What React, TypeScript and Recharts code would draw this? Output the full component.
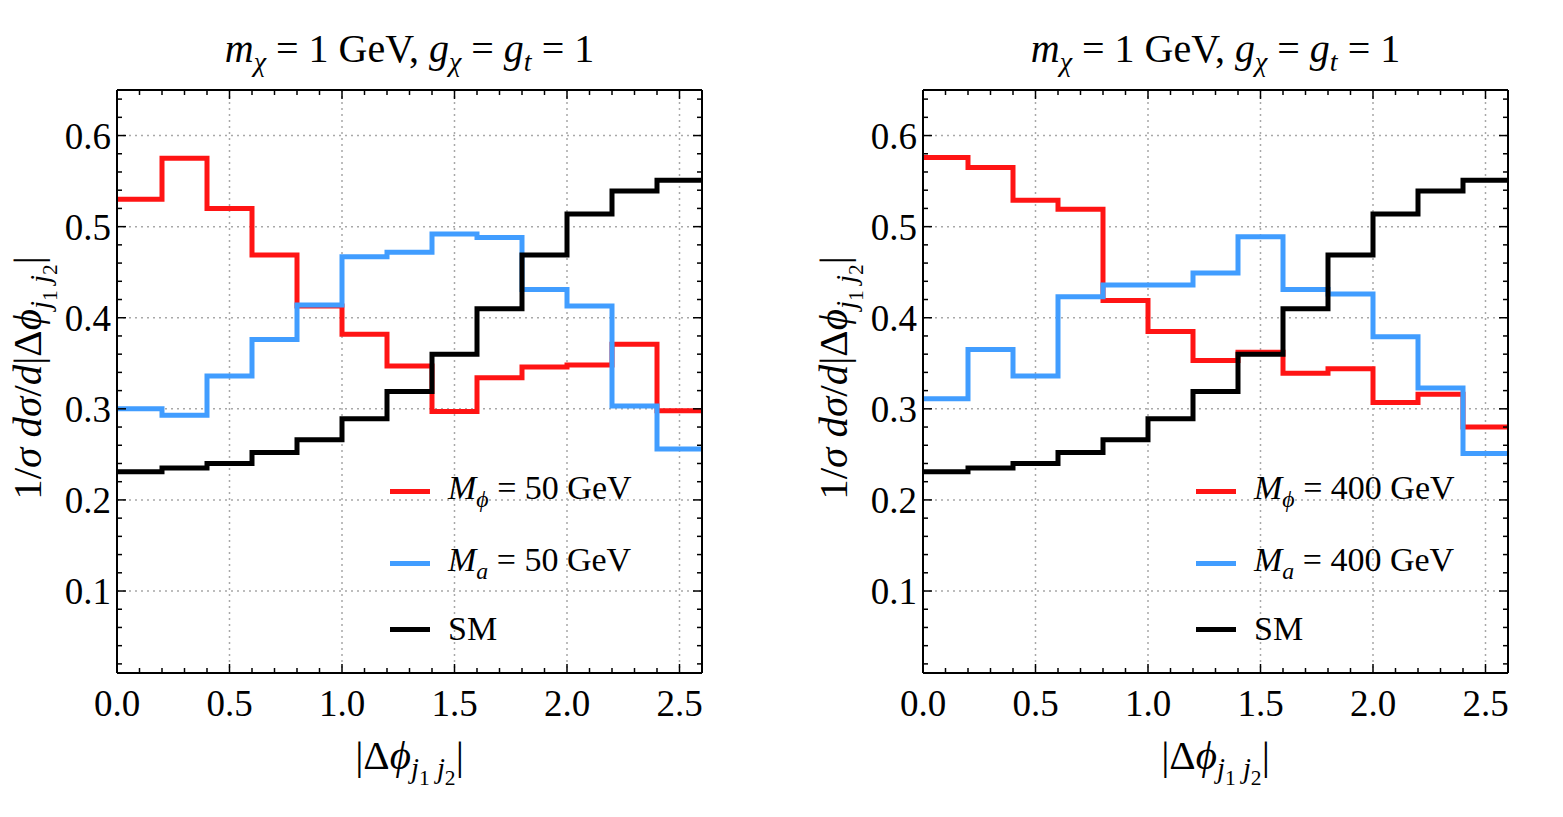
import React from 'react';
import { LineChart, Line, XAxis, YAxis, CartesianGrid, Legend } from 'recharts';

// bin edges of |Δφ_j1j2| (13 bins of width 0.2)
const binEdges = [0, 0.2, 0.4, 0.6, 0.8, 1.0, 1.2, 1.4, 1.6, 1.8, 2.0, 2.2, 2.4, 2.6];

const smValues = [0.231, 0.235, 0.240, 0.252, 0.266, 0.289, 0.319, 0.360, 0.410, 0.469, 0.514, 0.539, 0.551];
const scalar50 = [0.530, 0.575, 0.520, 0.469, 0.413, 0.382, 0.347, 0.297, 0.334, 0.346, 0.348, 0.371, 0.298];
const pseudo50 = [0.300, 0.293, 0.336, 0.376, 0.414, 0.467, 0.472, 0.492, 0.488, 0.431, 0.413, 0.303, 0.256];
const scalar400 = [0.576, 0.565, 0.529, 0.519, 0.419, 0.385, 0.353, 0.362, 0.339, 0.344, 0.307, 0.316, 0.280];
const pseudo400 = [0.311, 0.365, 0.336, 0.423, 0.436, 0.436, 0.449, 0.489, 0.431, 0.426, 0.379, 0.323, 0.251];

const xMajorTicks = [0, 0.5, 1.0, 1.5, 2.0, 2.5];
const yMajorTicks = [0.1, 0.2, 0.3, 0.4, 0.5, 0.6];
const xMinorTicks = Array.from({ length: 27 }, (_, i) => i / 10);
const yMinorTicks = Array.from({ length: 32 }, (_, i) => (i + 1) / 50);

const legendOrder = ['red', 'blue', 'sm'];

const FONT = '"Liberation Serif", "Times New Roman", serif';
const RED = '#ff1414';
const BLUE = '#419dff';
const MAJOR = 9;
const MINOR = 5;

const isMajor = (v: number, step: number) => Math.abs(v / step - Math.round(v / step)) < 1e-6;

// step histogram: repeat last value at the right edge
const toSteps = (red: number[], blue: number[]) =>
  binEdges.map((x, i) => {
    const k = Math.min(i, red.length - 1);
    return { x, red: red[k], blue: blue[k], sm: smValues[k] };
  });

const BottomTick = ({ x, y, payload }: any) => {
  const major = isMajor(payload.value, 0.5);
  return (
    <g>
      <line x1={x} x2={x} y1={y} y2={y - (major ? MAJOR : MINOR)} stroke="#000" strokeWidth={1.5} />
      {major && (
        <text x={x} y={y + 43} textAnchor="middle" fontSize={37} fontFamily={FONT} fill="#000">
          {payload.value.toFixed(1)}
        </text>
      )}
    </g>
  );
};
const LeftTick = ({ x, y, payload }: any) => {
  const major = isMajor(payload.value, 0.1);
  return (
    <g>
      <line x1={x} x2={x + (major ? MAJOR : MINOR)} y1={y} y2={y} stroke="#000" strokeWidth={1.5} />
      {major && (
        <text x={x - 6} y={y + 13} textAnchor="end" fontSize={37} fontFamily={FONT} fill="#000">
          {payload.value.toFixed(1)}
        </text>
      )}
    </g>
  );
};
const TopTick = ({ x, y, payload }: any) => (
  <line x1={x} x2={x} y1={y} y2={y + (isMajor(payload.value, 0.5) ? MAJOR : MINOR)} stroke="#000" strokeWidth={1.5} />
);
const RightTick = ({ x, y, payload }: any) => (
  <line x1={x} x2={x - (isMajor(payload.value, 0.1) ? MAJOR : MINOR)} y1={y} y2={y} stroke="#000" strokeWidth={1.5} />
);

const legendLabel = (name: string) => {
  const m = name.match(/^M_(\S+) (.*)$/);
  if (!m) return <span>{name}</span>;
  return (
    <span>
      <i>M</i>
      <sub style={{ fontSize: '0.7em' }}><i>{m[1]}</i></sub> {m[2]}
    </span>
  );
};

const rowTops = [0, 72, 138];

const LegendContent = ({ payload, textLeft }: any) => {
  const items = [...(payload || [])].sort(
    (a: any, b: any) => legendOrder.indexOf(a.dataKey) - legendOrder.indexOf(b.dataKey)
  );
  return (
    <div style={{ position: 'relative', width: 320, height: 170, fontFamily: FONT, fontSize: 34, color: '#000' }}>
      {items.map((entry: any, i: number) => (
        <div key={entry.value} style={{ position: 'absolute', left: 0, top: rowTops[i], height: 40, display: 'flex', alignItems: 'center' }}>
          <div style={{ width: 40, height: 5, background: entry.color }} />
          <div style={{ marginLeft: textLeft - 40, whiteSpace: 'nowrap' }}>{legendLabel(entry.value)}</div>
        </div>
      ))}
    </div>
  );
};

const Title = () => (
  <span>
    <i>m</i><sub style={{ fontSize: '0.7em' }}><i>χ</i></sub> = 1 GeV, <i>g</i>
    <sub style={{ fontSize: '0.7em' }}><i>χ</i></sub> = <i>g</i>
    <sub style={{ fontSize: '0.7em' }}><i>t</i></sub> = 1
  </span>
);

const PhiSub = () => (
  <sub style={{ fontSize: '0.7em' }}>
    <i>j</i><sub style={{ fontSize: '0.75em' }}>1</sub> <i>j</i><sub style={{ fontSize: '0.75em' }}>2</sub>
  </sub>
);

interface PanelProps {
  left: number;
  width: number;
  plotLeft: number;
  red: number[];
  blue: number[];
  mass: string;
}

function Panel({ left, width, plotLeft, red, blue, mass }: PanelProps) {
  const plotWidth = 585;
  const data = toSteps(red, blue);
  const cx = plotLeft + plotWidth / 2;
  const textStyle: React.CSSProperties = { position: 'absolute', fontFamily: FONT, color: '#000', whiteSpace: 'nowrap' };
  const axisLine = { stroke: '#000', strokeWidth: 2 };
  return (
    <div style={{ position: 'absolute', left, top: 0, width, height: 817 }}>
      <LineChart
        width={width}
        height={817}
        data={data}
        margin={{ top: 89, left: plotLeft - 1, right: width - plotLeft - plotWidth - 1, bottom: 143 }}
      >
        <CartesianGrid xAxisId="grid" yAxisId="grid" stroke="#a8a8a8" strokeDasharray="2 4" strokeWidth={1.5} />
        <XAxis dataKey="x" type="number" domain={[0, 2.6]} ticks={xMinorTicks} interval={0} height={1}
          tickSize={0} tickMargin={0} tickLine={false} tick={BottomTick} axisLine={axisLine} allowDataOverflow />
        <XAxis xAxisId="top" orientation="top" dataKey="x" type="number" domain={[0, 2.6]} ticks={xMinorTicks} interval={0} height={1}
          tickSize={0} tickMargin={0} tickLine={false} tick={TopTick} axisLine={axisLine} allowDataOverflow />
        <XAxis xAxisId="grid" dataKey="x" type="number" domain={[0, 2.6]} ticks={xMajorTicks} interval={0} hide allowDataOverflow />
        <YAxis type="number" domain={[0.01, 0.65]} ticks={yMinorTicks} interval={0} width={1}
          tickSize={0} tickMargin={0} tickLine={false} tick={LeftTick} axisLine={axisLine} allowDataOverflow />
        <YAxis yAxisId="right" orientation="right" type="number" domain={[0.01, 0.65]} ticks={yMinorTicks} interval={0} width={1}
          tickSize={0} tickMargin={0} tickLine={false} tick={RightTick} axisLine={axisLine} allowDataOverflow />
        <YAxis yAxisId="grid" type="number" domain={[0.01, 0.65]} ticks={yMajorTicks} interval={0} hide allowDataOverflow />
        <Line type="stepAfter" dataKey="red" name={`M_ϕ = ${mass} GeV`} stroke={RED} strokeWidth={5} dot={false} isAnimationActive={false} />
        <Line type="stepAfter" dataKey="blue" name={`M_a = ${mass} GeV`} stroke={BLUE} strokeWidth={5} dot={false} isAnimationActive={false} />
        <Line type="stepAfter" dataKey="sm" name="SM" stroke="#000" strokeWidth={5} dot={false} isAnimationActive={false} />
        <Legend layout="vertical" align="center" verticalAlign="middle"
          wrapperStyle={{ left: plotLeft + 273, top: 471, width: 320 }}
          content={<LegendContent textLeft={58} />} />
      </LineChart>
      <div style={{ ...textStyle, left: cx, top: 51, fontSize: 40, transform: 'translate(-50%, -50%)' }}>
        <Title />
      </div>
      <div style={{ ...textStyle, left: cx, top: 761, fontSize: 41, transform: 'translate(-50%, -50%)' }}>
        |Δ<i>ϕ</i><PhiSub />|
      </div>
      <div style={{ ...textStyle, left: plotLeft - 84, top: 378, fontSize: 41, transform: 'translate(-50%, -50%) rotate(-90deg)' }}>
        1/<i>σ</i> <i>dσ</i>/<i>d</i>|Δ<i>ϕ</i><PhiSub />|
      </div>
    </div>
  );
}

export default function App() {
  return (
    <div style={{ position: 'absolute', left: 0, top: 0, width: 1563, height: 817, background: '#fff' }}>
      <Panel left={0} width={781} plotLeft={117} red={scalar50} blue={pseudo50} mass="50" />
      <Panel left={781} width={782} plotLeft={142} red={scalar400} blue={pseudo400} mass="400" />
    </div>
  );
}
